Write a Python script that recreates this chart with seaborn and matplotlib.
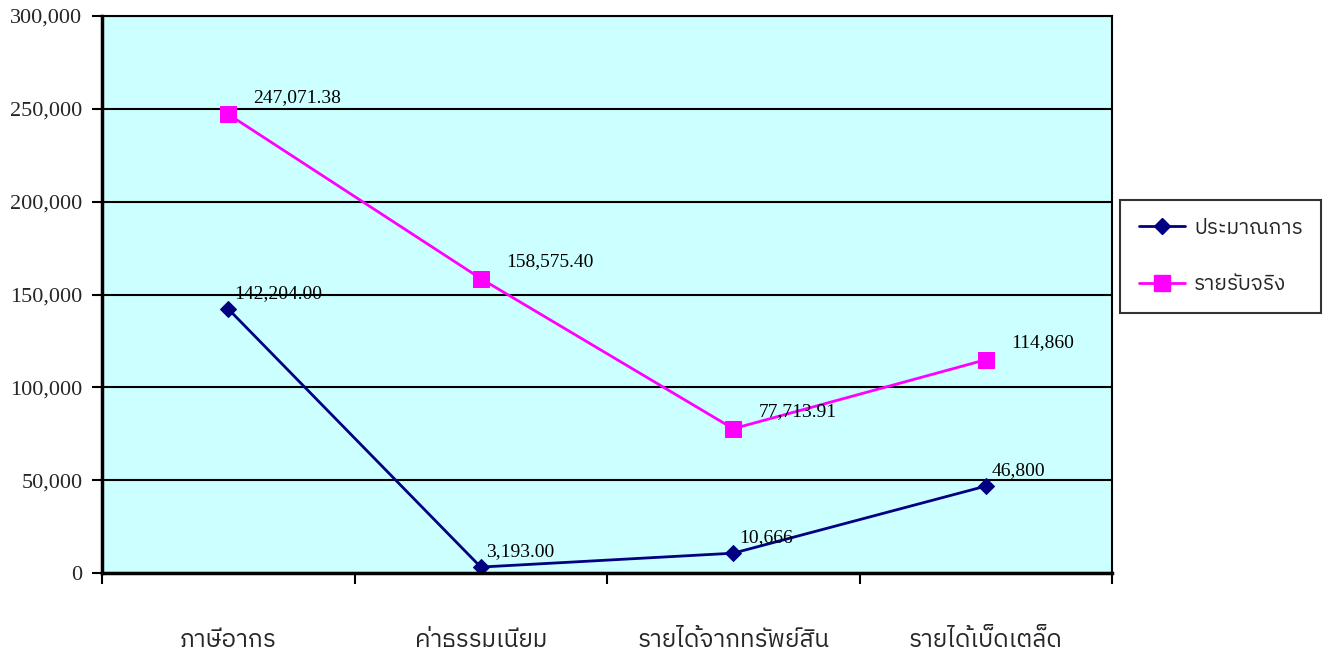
import numpy as np
import pandas as pd
import matplotlib
matplotlib.use("Agg")
import matplotlib.pyplot as plt
from matplotlib import font_manager as fm
from matplotlib.ft2font import FT2Font
from matplotlib.ticker import FuncFormatter, FixedLocator
from matplotlib.lines import Line2D
import seaborn as sns

# ---------------- data ----------------
categories = ["ภาษีอากร", "ค่าธรรมเนียม", "รายได้จากทรัพย์สิน", "รายได้เบ็ดเตล็ด"]
series_names = ["ประมาณการ", "รายรับจริง"]
estimate = [142204.00, 3193.00, 10666, 46800]
actual = [247071.38, 158575.40, 77713.91, 114860]
estimate_labels = ["142,204.00", "3,193.00", "10,666", "46,800"]
actual_labels = ["247,071.38", "158,575.40", "77,713.91", "114,860"]
y_ticks = [0, 50000, 100000, 150000, 200000, 250000, 300000]

# ---------------- fonts ----------------
thai_font = None
cands = []
for f in fm.fontManager.ttflist:
    try:
        cm = FT2Font(f.fname).get_charmap()
    except Exception:
        continue
    if 0x0E20 in cm and 0x0E01 in cm and 0x0E29 in cm:
        cands.append(f.name)
pref = [n for n in cands if "Thai" in n and "Looped" not in n and "UI" not in n]
if pref:
    thai_font = pref[0]
elif cands:
    thai_font = cands[0]

sns.set_style("white")
serif = "Liberation Serif"
fam = [thai_font, serif, "DejaVu Sans"] if thai_font else [serif, "DejaVu Sans"]
plt.rcParams["font.family"] = fam

df = pd.DataFrame({
    "cat": categories * 2,
    "x": list(range(len(categories))) * 2,
    "value": estimate + actual,
    "series": [series_names[0]] * 4 + [series_names[1]] * 4,
})

fig = plt.figure(figsize=(13.3, 6.53), dpi=100)
ax = fig.add_axes([102 / 1330, 1 - 573 / 653, (1112 - 102) / 1330, (573 - 16) / 653])
ax.set_facecolor("#CCFFFF")

navy = "#000080"
magenta = "#FF00FF"
d1 = df[df.series == series_names[0]]
d2 = df[df.series == series_names[1]]
sns.lineplot(data=d1, x="x", y="value", ax=ax, color=navy, marker="D",
             markersize=8, markeredgecolor=navy, linewidth=2, legend=False)
sns.lineplot(data=d2, x="x", y="value", ax=ax, color=magenta, marker="s",
             markersize=11, markeredgecolor=magenta, linewidth=2, legend=False)

ax.set_xlim(-0.5, len(categories) - 0.5)
ax.set_ylim(0, 300000)
ax.yaxis.set_major_locator(FixedLocator(y_ticks))
ax.yaxis.set_major_formatter(FuncFormatter(lambda v, p: f"{int(v):,}"))
ax.grid(axis="y", color="black", linewidth=1.5)
ax.grid(axis="x", visible=False)
ax.set_axisbelow(True)
for s in ax.spines.values():
    s.set_color("black")
    s.set_linewidth(1.5)
ax.spines["left"].set_linewidth(2.5)
ax.spines["bottom"].set_linewidth(2.5)

ax.set_xticks(range(len(categories)))
ax.set_xticklabels(categories, fontsize=17.5, family=fam)
ax.set_xticks(np.arange(-0.5, len(categories)), minor=True)
ax.tick_params(axis="x", which="major", length=0, pad=40)
ax.tick_params(axis="x", which="minor", length=8, width=1.5, direction="out", color="black", bottom=True)
ax.tick_params(axis="y", which="major", length=7, width=1.5, direction="out", color="black",
               left=True, labelsize=16, pad=7)
for t in ax.get_yticklabels():
    t.set_family(serif)
ax.set_xlabel("")
ax.set_ylabel("")

for i, (v, lab) in enumerate(zip(estimate, estimate_labels)):
    ax.annotate(lab, (i, v), xytext=(4, 11), textcoords="offset points",
                ha="left", va="center", fontsize=14, family=serif, color="black")
for i, (v, lab) in enumerate(zip(actual, actual_labels)):
    ax.annotate(lab, (i, v), xytext=(18, 12), textcoords="offset points",
                ha="left", va="center", fontsize=14, family=serif, color="black")

handles = [
    Line2D([], [], color=navy, marker="D", markersize=8, linewidth=2),
    Line2D([], [], color=magenta, marker="s", markersize=11, linewidth=2),
]
leg = fig.legend(handles, series_names, loc="upper left",
                 bbox_to_anchor=(1120 / 1330, 1 - 200 / 653), borderaxespad=0,
                 prop={"family": fam, "size": 15},
                 frameon=True, fancybox=False, handlelength=2.2, borderpad=0.9,
                 labelspacing=1.8, handletextpad=0.45)
leg.get_frame().set_edgecolor("black")
leg.get_frame().set_linewidth(1.5)

fig.savefig("out.png", dpi=100, facecolor="white")
